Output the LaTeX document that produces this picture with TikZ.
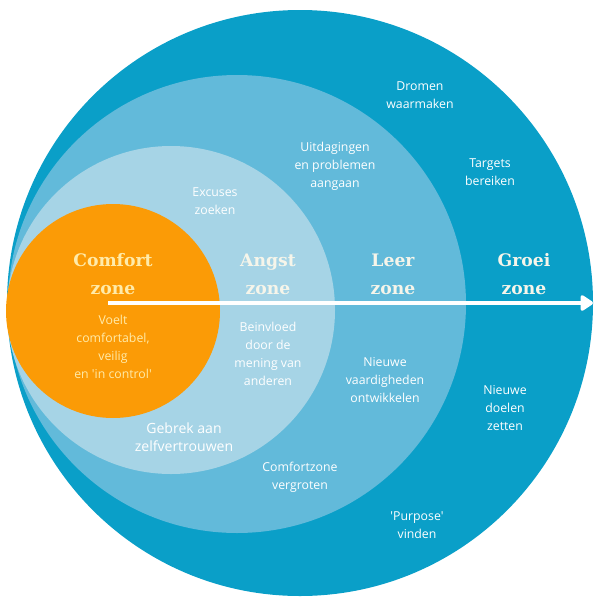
\documentclass[tikz,border=0pt]{standalone}
\usepackage{fontspec}
\newfontfamily\zonefont{Open Sans}
\newfontfamily\titelfont{DejaVu Serif}
\usepackage{tikz}
\usetikzlibrary{arrows.meta}
\definecolor{groeiblauw}{HTML}{0A9FC8}
\definecolor{leerblauw}{HTML}{62BADA}
\definecolor{angstblauw}{HTML}{A6D4E6}
\definecolor{comfortoranje}{HTML}{FB9B06}
\definecolor{creme}{HTML}{FFEBAA}
\definecolor{titelwit}{HTML}{F6F5EA}

\begin{document}
\begin{tikzpicture}[x=0.02cm, y=-0.02cm,
    tekst/.style={font=\zonefont\fontsize{7}{10.2}\selectfont, text=white, align=center},
    titel/.style={font=\titelfont\bfseries\fontsize{9.8}{15.9}\selectfont, text=titelwit, align=center}]
    \useasboundingbox (0,0) rectangle (599,605);

    % de vier zones
    \fill[groeiblauw] (300,303) circle (293);
    \fill[leerblauw] (237,304) circle (229);
    \fill[angstblauw] (171,310) circle (164);
    \fill[comfortoranje] (113,311) circle (107);

    % pijl
    \coordinate (pijlstart) at (108,303);
    \coordinate (pijleind) at (593,303);
    \draw[white, line width=2.8pt, -{Triangle[length=8pt, width=10pt, round]}] (pijlstart) -- (pijleind);

    % zonenamen
    \node[titel, text=creme] (comfort) at (113,274) {Comfort\\zone};
    \node[titel] (angst) at (268,274) {Angst\\zone};
    \node[titel] (leer) at (393,274) {Leer\\zone};
    \node[titel] (groei) at (524,274) {Groei\\zone};

    % comfort zone
    \node[tekst, text=creme] (voelt) at (113,347) {Voelt\\comfortabel,\\veilig\\en 'in control'};

    % angst zone
    \node[tekst] (excuses) at (215,201) {Excuses\\zoeken};
    \node[tekst] (beinvloed) at (268,354) {Beinvloed\\door de\\mening van\\anderen};
    \node[tekst, font=\zonefont\fontsize{8}{10.2}\selectfont] (gebrek) at (184,437) {Gebrek aan\\zelfvertrouwen};

    % leer zone
    \node[tekst] (uitdagingen) at (335,166) {Uitdagingen\\en problemen\\aangaan};
    \node[tekst] (vaardigheden) at (385,380) {Nieuwe\\vaardigheden\\ontwikkelen};
    \node[tekst] (vergroten) at (300,477) {Comfortzone\\vergroten};

    % groei zone
    \node[tekst] (dromen) at (420,95) {Dromen\\waarmaken};
    \node[tekst] (targets) at (490,172) {Targets\\bereiken};
    \node[tekst] (doelen) at (505,408) {Nieuwe\\doelen\\zetten};
    \node[tekst] (purpose) at (417,525) {'Purpose'\\vinden};
\end{tikzpicture}
\end{document}
